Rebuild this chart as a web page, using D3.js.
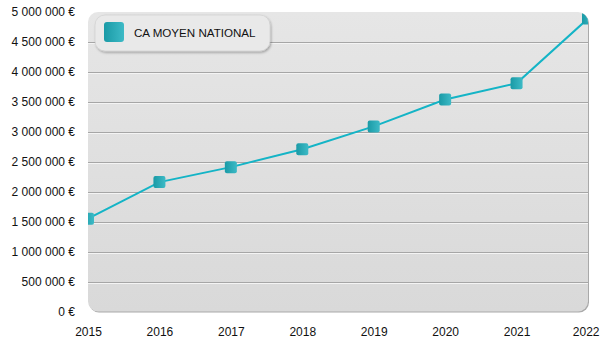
<!DOCTYPE html>
<html>
<head>
<meta charset="utf-8">
<script src="https://cdn.jsdelivr.net/npm/d3@7"></script>
<style>
  html, body { margin: 0; padding: 0; background: #fff; }
  svg { display: block; font-family: "Liberation Sans", Arial, sans-serif; }
</style>
</head>
<body>
<svg id="chart" width="600" height="350"></svg>
<script>
// Average national turnover per year
const years = ["2015", "2016", "2017", "2018", "2019", "2020", "2021", "2022"];
const caMoyen = [1550000, 2160000, 2410000, 2710000, 3090000, 3540000, 3810000, 4890000];
const yTicks = [0, 500000, 1000000, 1500000, 2000000, 2500000, 3000000, 3500000, 4000000, 4500000, 5000000];
const seriesName = "CA MOYEN NATIONAL";

const W = 600, H = 350;
const plot = { left: 88, right: 588, top: 12, bottom: 311.5 };

const svg = d3.select("#chart");
const defs = svg.append("defs");

const bg = defs.append("linearGradient").attr("id", "bgGrad")
  .attr("x1", 0).attr("y1", 0).attr("x2", 0).attr("y2", 1);
bg.append("stop").attr("offset", 0).attr("stop-color", "#e6e6e6");
bg.append("stop").attr("offset", 1).attr("stop-color", "#d9d9d9");

const mk = defs.append("linearGradient").attr("id", "mkGrad")
  .attr("x1", 0).attr("y1", 0).attr("x2", 1).attr("y2", 0);
mk.append("stop").attr("offset", 0).attr("stop-color", "#1a9aa6");
mk.append("stop").attr("offset", 1).attr("stop-color", "#3dbac6");

const sh = defs.append("filter").attr("id", "shadow")
  .attr("x", -0.2).attr("y", -0.3).attr("width", 1.4).attr("height", 1.8);
sh.append("feDropShadow").attr("dx", 1).attr("dy", 1.5).attr("stdDeviation", 1.2)
  .attr("flood-color", "#000").attr("flood-opacity", 0.3);

defs.append("clipPath").attr("id", "plotClip")
  .append("rect")
  .attr("x", plot.left).attr("y", plot.top)
  .attr("width", plot.right - plot.left).attr("height", plot.bottom - plot.top)
  .attr("rx", 10).attr("ry", 10);

const x = d3.scalePoint().domain(years).range([plot.left, plot.right]);
const y = d3.scaleLinear().domain([0, 5000000]).range([plot.bottom, plot.top]);

// Panel edge shadow (right and bottom)
svg.append("rect")
  .attr("x", plot.left + 1).attr("y", plot.top + 1)
  .attr("width", plot.right - plot.left).attr("height", plot.bottom - plot.top)
  .attr("rx", 10).attr("ry", 10)
  .attr("fill", "#a9a9a9");

// Panel background
svg.append("rect")
  .attr("x", plot.left).attr("y", plot.top)
  .attr("width", plot.right - plot.left).attr("height", plot.bottom - plot.top)
  .attr("rx", 10).attr("ry", 10)
  .attr("fill", "url(#bgGrad)");

// Gridlines (embossed: gray with a white line below)
const gridVals = yTicks.filter(v => v > 0 && v < 5000000);
const grid = svg.append("g").attr("clip-path", "url(#plotClip)");
grid.selectAll("line.g1").data(gridVals).join("line")
  .attr("x1", plot.left).attr("x2", plot.right)
  .attr("y1", d => Math.round(y(d)) + 0.5).attr("y2", d => Math.round(y(d)) + 0.5)
  .attr("stroke", "#a6a6a6").attr("stroke-width", 1);
grid.selectAll("line.g2").data(gridVals).join("line")
  .attr("x1", plot.left).attr("x2", plot.right)
  .attr("y1", d => Math.round(y(d)) + 1.5).attr("y2", d => Math.round(y(d)) + 1.5)
  .attr("stroke", "#f4f4f4").attr("stroke-width", 1);

// Y axis labels
const yAxis = d3.axisLeft(y).tickValues(yTicks).tickSize(0).tickPadding(0)
  .tickFormat(v => d3.format(",")(v).replace(/,/g, " ") + " €");
const yg = svg.append("g").attr("transform", `translate(${75},0)`).call(yAxis);
yg.select(".domain").remove();
yg.selectAll("text").attr("font-size", 12).attr("fill", "#111")
  .attr("font-family", "Liberation Sans, Arial, sans-serif");

// X axis labels
const xAxis = d3.axisBottom(x).tickSize(0).tickPadding(0);
const xg = svg.append("g").attr("transform", `translate(0,${327})`).call(xAxis);
xg.select(".domain").remove();
xg.selectAll("text").attr("font-size", 12).attr("fill", "#111")
  .attr("font-family", "Liberation Sans, Arial, sans-serif");
// keep the last year label inside the canvas
xg.selectAll(".tick").filter((d, i, n) => i === n.length - 1)
  .select("text").attr("text-anchor", "end").attr("x", W - 1 - x(years[years.length - 1]));

// Series line and markers, clipped to the panel
const series = svg.append("g").attr("clip-path", "url(#plotClip)");
const line = d3.line().x((d, i) => x(years[i])).y(d => y(d));
series.append("path").datum(caMoyen)
  .attr("d", line).attr("fill", "none")
  .attr("stroke", "#14b4c6").attr("stroke-width", 2);
series.selectAll("rect.mk").data(caMoyen).join("rect")
  .attr("x", (d, i) => x(years[i]) - 6).attr("y", d => y(d) - 6)
  .attr("width", 12).attr("height", 12).attr("rx", 2).attr("ry", 2)
  .attr("fill", "url(#mkGrad)");

// Legend
const lg = svg.append("g");
lg.append("rect")
  .attr("x", 95).attr("y", 15).attr("width", 175).attr("height", 36)
  .attr("rx", 10).attr("ry", 10)
  .attr("fill", "#e9e9e9").attr("stroke", "#cfcfcf").attr("stroke-width", 0.6)
  .attr("filter", "url(#shadow)");
lg.append("rect")
  .attr("x", 104).attr("y", 22).attr("width", 20).attr("height", 20)
  .attr("rx", 3).attr("ry", 3).attr("fill", "url(#mkGrad)");
lg.append("text")
  .attr("x", 134).attr("y", 32.5).attr("dy", "0.35em")
  .attr("font-size", 11.6).attr("fill", "#111")
  .text(seriesName);
</script>
</body>
</html>
